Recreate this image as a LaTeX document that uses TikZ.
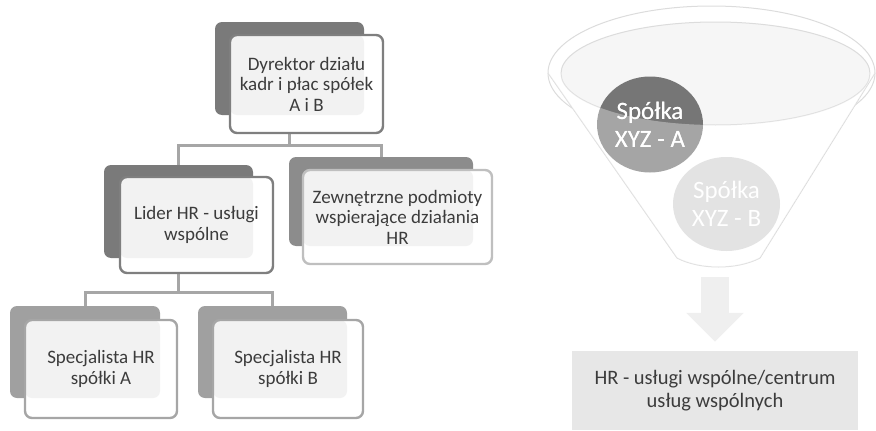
\documentclass[tikz,border=0pt]{standalone}
\usepackage{fontspec}
\setmainfont{Carlito}
\usetikzlibrary{arrows.meta,positioning,shapes.geometric}
\definecolor{backdark}{HTML}{7A7A7A}
\definecolor{backmid}{HTML}{8C8C8C}
\definecolor{backlight}{HTML}{A0A0A0}
\definecolor{edgedark}{HTML}{7F7F7F}
\definecolor{edgemid}{HTML}{A6A6A6}
\definecolor{edgelight}{HTML}{BFBFBF}
\definecolor{boxtint}{HTML}{F2F2F2}
\definecolor{rimtint}{HTML}{F6F6F6}
\definecolor{linkgray}{HTML}{A6A6A6}
\definecolor{funnelline}{HTML}{DCDCDC}
\definecolor{circdark}{HTML}{767676}
\definecolor{circlight}{HTML}{D4D4D4}
\definecolor{arrowgray}{HTML}{EFEFEF}
\definecolor{hrfill}{HTML}{E7E7E7}
\definecolor{textgray}{HTML}{3C3C3C}

\begin{document}
\begin{tikzpicture}[x=1pt,y=-1pt,
  backbox/.style={rectangle,rounded corners=7pt,inner sep=0pt,outer sep=0pt},
  frontbox/.style={draw=#1,line width=2.4pt,rounded corners=7pt,fill=white,
    align=center,text=textgray,font=\fontsize{19}{20.5}\selectfont,
    anchor=north west,inner sep=0pt,outer sep=0pt},
  tint/.style={path picture={\fill[boxtint,rounded corners=7pt]
    (path picture bounding box.north west) rectangle (#1.south east);}},
  link/.style={draw=linkgray,line width=3pt},
  company/.style={ellipse,inner sep=0pt,align=center,
    font=\fontsize{25}{28}\selectfont},
  blockarrow/.style={draw=arrowgray,line width=28pt,
    -{Triangle[width=56pt,length=29pt]},shorten >=9pt}]
\useasboundingbox (0,0) rectangle (876,431);

% back boxes of the hierarchy
\node[backbox,fill=backdark,minimum width=149pt,minimum height=93pt] (dyrb) at (289.5,68.5) {};
\node[backbox,fill=backdark,minimum width=149pt,minimum height=93pt] (lidb) at (178.5,211.5) {};
\node[backbox,fill=backmid,minimum width=184pt,minimum height=89pt] (zewb) at (381,201.5) {};
\node[backbox,fill=backlight,minimum width=150pt,minimum height=92pt] (spab) at (85,352) {};
\node[backbox,fill=backlight,minimum width=149pt,minimum height=92pt] (spbb) at (272.5,352) {};

% connectors
\draw[link] (dyrb.south) -- ++(0,30) -| (lidb.north);
\draw[link] (dyrb.south) -- ++(0,30) -| (zewb.north);
\draw[link] (lidb.south) -- ++(0,34) -| (spab.north);
\draw[link] (lidb.south) -- ++(0,34) -| (spbb.north);

% front boxes
\node[frontbox=edgedark,tint=dyrb,minimum width=153pt,minimum height=98pt] (dyr) at ([shift={(15,13)}]dyrb.north west) {Dyrektor działu\\kadr i płac spółek\\A i B};
\node[frontbox=edgedark,tint=lidb,minimum width=153pt,minimum height=96pt] (lid) at ([shift={(16,12)}]lidb.north west) {Lider HR - usługi\\wspólne};
\node[frontbox=edgelight,tint=zewb,minimum width=189pt,minimum height=94pt] (zew) at ([shift={(14,13)}]zewb.north west) {Zewnętrzne podmioty\\wspierające działania\\HR};
\node[frontbox=edgemid,tint=spab,minimum width=152pt,minimum height=98pt] (spa) at ([shift={(15,14)}]spab.north west) {Specjalista HR\\spółki A};
\node[frontbox=edgemid,tint=spbb,minimum width=150pt,minimum height=98pt] (spb) at ([shift={(15,14)}]spbb.north west) {Specjalista HR\\spółki B};

% funnel
\filldraw[draw=funnelline,fill=white,line width=1pt] (711.5,73) ellipse [x radius=163.5,y radius=67];
\fill[white] (548,73) -- (677,258) .. controls (700,270) and (737,270) .. (760,258) -- (875,73) -- cycle;
\draw[funnelline,line width=1pt] (548,73) -- (677,258) .. controls (700,270) and (737,270) .. (760,258) -- (875,73);
\filldraw[draw=funnelline,fill=rimtint,line width=1pt] (715.5,73.5) ellipse [x radius=154.5,y radius=51.5];
\node[company,fill=circdark,text=white,minimum width=106pt,minimum height=96pt] (xyza) at (650,124.5) {Spółka\\XYZ - A};
\node[company,fill=circlight,text=white,minimum width=107pt,minimum height=94pt] (xyzb) at (726.5,204) {Spółka\\XYZ - B};
\begin{scope}
  \clip (548,73) -- (677,258) .. controls (700,270) and (737,270) .. (760,258) -- (875,73) -- cycle;
  \fill[white,opacity=.35,even odd rule] (548,73) -- (677,258) .. controls (700,270) and (737,270) .. (760,258) -- (875,73) -- cycle
    (715.5,73.5) ellipse [x radius=154.5,y radius=51.5];
\end{scope}
\node[company,text=white,minimum width=106pt,minimum height=96pt] at (xyza) {Spółka\\XYZ - A};

% shared services
\coordinate (fbot) at (715,277);
\node[fill=hrfill,minimum width=286pt,minimum height=79pt,align=center,text=textgray,
  font=\fontsize{20.5}{23}\selectfont] (hr) at (715,390.5) {HR - usługi wspólne/centrum\\usług wspólnych};
\draw[blockarrow] (fbot) -- (hr.north);
\end{tikzpicture}
\end{document}
